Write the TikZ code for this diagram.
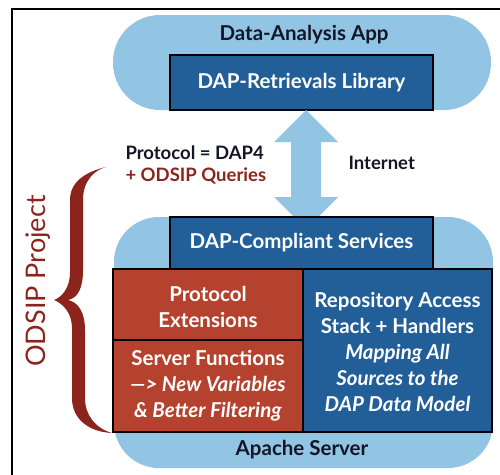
\documentclass[tikz,border=0pt]{standalone}
\usepackage{fontspec}
\setmainfont{Lato}
\definecolor{lblue}{RGB}{146,197,227}
\definecolor{dblue}{RGB}{34,94,152}
\definecolor{boxred}{RGB}{181,66,46}
\definecolor{bracered}{RGB}{140,36,30}
\definecolor{txtdark}{RGB}{20,22,40}
\begin{document}
\begin{tikzpicture}[x=1pt,y=-1pt,
  pill/.style={fill=lblue},
  bluebox/.style={fill=dblue,draw=black,line width=1.5pt},
  redbox/.style={fill=boxred,draw=black,line width=1.5pt},
  wtext/.style={text=white,font=\fontsize{20.5}{26}\selectfont\bfseries,align=center},
  dtext/.style={text=txtdark,font=\fontsize{20.5}{26}\selectfont\bfseries,align=center},
  ltext/.style={text=txtdark,font=\fontsize{18.5}{22}\selectfont\bfseries,anchor=west}
]
\useasboundingbox (0,0) rectangle (500,474);
% frame
\draw[line width=1.2pt] (12,480) -- (12,9) -- (510,9);
% top pill
\path[pill,rounded corners=47pt] (113,15) rectangle (491,110);
\node[dtext] (app) at (304,35) {Data-Analysis App};
\node[bluebox,minimum width=263pt,minimum height=55pt,inner sep=0pt] (lib) at (301.5,82.5) {};
\node[wtext] (libt) at (lib) {DAP-Retrievals Library};
% arrow
\fill[lblue] (306,110) -- (338,142) -- (321,142) -- (321,197) -- (338,197) -- (306,229)
  -- (274,197) -- (291,197) -- (291,142) -- (274,142) -- cycle;
\coordinate (arr) at (306,165);
% bottom pill
\path[pill,rounded corners=45pt] (114,217) rectangle (493,468);
\node[bluebox,minimum width=263pt,minimum height=52pt,inner sep=0pt] (svc) at (301.5,243) {};
\node[wtext] (svct) at (svc) {DAP-Compliant Services};
\node[redbox,minimum width=190pt,minimum height=71pt,inner sep=0pt] (pext) at (208,304.5) {};
\node[wtext] (pextt) at (208,307) {Protocol\\Extensions};
\node[redbox,minimum width=190pt,minimum height=92pt,inner sep=0pt] (sfun) at (208,386) {};
\node[wtext] (sfunt) at (sfun) {Server Functions\\\textit{---> New Variables}\\\textit{\& Better Filtering}};
\node[bluebox,minimum width=189pt,minimum height=163pt,inner sep=0pt] (repo) at (397.5,350.5) {};
\node[wtext] (repot) at (397.5,352) {Repository Access\\Stack + Handlers\\\textit{Mapping All}\\\textit{Sources to the}\\\textit{DAP Data Model}};
\node[dtext] (apache) at (302,450) {Apache Server};
% labels
\node[ltext] (proto) at (122,153) {Protocol = DAP4};
\node[ltext,text=bracered] (odsipq) at (122,176) {+ ODSIP Queries};
\node[ltext] (inet) at (345,163) {Internet};
% brace
\fill[bracered] (106,167) .. controls (85,172) and (70,182) .. (70,200)
  -- (70,272) .. controls (70,288) and (62,297) .. (54,300)
  .. controls (64,304) and (72,314) .. (72,328)
  -- (72,398) .. controls (72,420) and (90,432) .. (112,433)
  .. controls (95,428) and (85,415) .. (85,398)
  -- (85,330) .. controls (85,312) and (78,302) .. (68,300)
  .. controls (78,298) and (83,288) .. (83,270)
  -- (83,200) .. controls (83,180) and (95,170) .. (106,167) -- cycle;
\node[rotate=90,text=bracered,font=\fontsize{27}{30}\selectfont] (odsip) at (38,281) {ODSIP Project};
\end{tikzpicture}
\end{document}
